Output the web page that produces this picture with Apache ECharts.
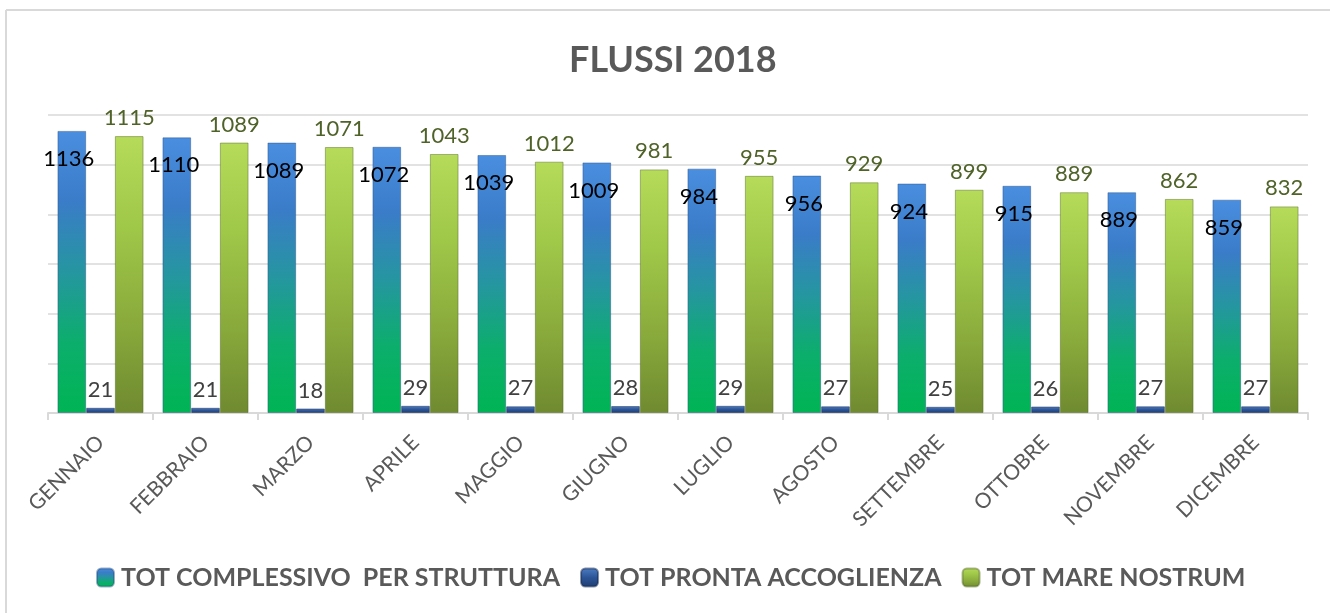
<!DOCTYPE html>
<html>
<head>
    <meta charset="UTF-8">
    <title>FLUSSI 2018</title>
    <style>
        html, body { margin: 0; padding: 0; background: #ffffff; }
        #chart { width: 1330px; height: 613px; }
    </style>
</head>
<body>
    <div id="chart"></div>
    <script src="https://cdn.jsdelivr.net/npm/echarts@6.0.0/dist/echarts.min.js"></script>
    <script>
        // dati
        const mesi = ['GENNAIO', 'FEBBRAIO', 'MARZO', 'APRILE', 'MAGGIO', 'GIUGNO',
            'LUGLIO', 'AGOSTO', 'SETTEMBRE', 'OTTOBRE', 'NOVEMBRE', 'DICEMBRE'];
        const totComplessivo = [1136, 1110, 1089, 1072, 1039, 1009, 984, 956, 924, 915, 889, 859];
        const totProntaAccoglienza = [21, 21, 18, 29, 27, 28, 29, 27, 25, 26, 27, 27];
        const totMareNostrum = [1115, 1089, 1071, 1043, 1012, 981, 955, 929, 899, 889, 862, 832];
        const nomiSerie = ['TOT COMPLESSIVO  PER STRUTTURA', 'TOT PRONTA ACCOGLIENZA', 'TOT MARE NOSTRUM'];

        const chart = echarts.init(document.getElementById('chart'));

        function gradiente(stops) {
            return new echarts.graphic.LinearGradient(0, 0, 0, 1,
                stops.map((c, i) => ({ offset: i / (stops.length - 1), color: c })));
        }

        const labelFont = { fontFamily: 'Lato', fontSize: 22 };

        const option = {
            animation: false,
            backgroundColor: '#ffffff',
            title: {
                text: 'FLUSSI 2018',
                left: 564,
                top: 37,
                textStyle: { fontFamily: 'Lato', fontWeight: 'bold', fontSize: 36, color: '#595959' }
            },
            legend: {
                bottom: 18,
                left: 91,
                itemGap: 20,
                itemWidth: 17,
                itemHeight: 18,
                textStyle: { fontFamily: 'Lato', fontWeight: 'bold', fontSize: 25, color: '#595959', padding: [0, 0, 0, 2] },
                data: nomiSerie
            },
            grid: { left: 48, right: 22, top: 115, bottom: 200 },
            xAxis: {
                type: 'category',
                data: mesi,
                axisLine: { lineStyle: { color: '#d9d9d9', width: 2 } },
                axisTick: { show: true, length: 7, lineStyle: { color: '#d9d9d9', width: 2 } },
                axisLabel: {
                    rotate: 45,
                    margin: 26,
                    fontFamily: 'Lato',
                    fontSize: 21,
                    color: '#595959'
                }
            },
            yAxis: {
                type: 'value',
                min: 0,
                max: 1200,
                interval: 200,
                axisLabel: { show: false },
                axisLine: { show: false },
                axisTick: { show: false },
                splitLine: { lineStyle: { color: '#d9d9d9', width: 1.5 } }
            },
            graphic: [
                { type: 'line', shape: { x1: 6, y1: 10, x2: 6, y2: 613 }, style: { stroke: '#d9d9d9', lineWidth: 2 } },
                { type: 'line', shape: { x1: 6, y1: 10, x2: 1330, y2: 10 }, style: { stroke: '#d9d9d9', lineWidth: 2 } }
            ],
            series: [
                {
                    name: nomiSerie[0],
                    type: 'bar',
                    data: totComplessivo,
                    barGap: '0%',
                    barCategoryGap: '18%',
                    itemStyle: {
                        color: gradiente(['#4a8ee0', '#3a7cc8', '#2596a0', '#0cae6c', '#00b454']),
                        borderColor: 'rgba(40,80,130,0.45)',
                        borderWidth: 1
                    },
                    label: {
                        show: true,
                        position: 'insideTop',
                        distance: 17,
                        offset: [-3, 0],
                        color: '#000000',
                        ...labelFont
                    }
                },
                {
                    name: nomiSerie[1],
                    type: 'bar',
                    data: totProntaAccoglienza,
                    itemStyle: {
                        color: gradiente(['#4f7fc4', '#2c5597', '#1f3d70']),
                        borderColor: 'rgba(20,40,80,0.5)',
                        borderWidth: 1
                    },
                    label: {
                        show: true,
                        position: 'top',
                        distance: 7,
                        color: '#404040',
                        ...labelFont
                    }
                },
                {
                    name: nomiSerie[2],
                    type: 'bar',
                    data: totMareNostrum,
                    itemStyle: {
                        color: gradiente(['#b6db5a', '#9fc748', '#8aab3c', '#6f8a30']),
                        borderColor: 'rgba(80,100,30,0.45)',
                        borderWidth: 1
                    },
                    label: {
                        show: true,
                        position: 'top',
                        distance: 7,
                        color: '#4f6228',
                        ...labelFont
                    }
                }
            ]
        };

        chart.setOption(option);
    </script>
</body>
</html>
